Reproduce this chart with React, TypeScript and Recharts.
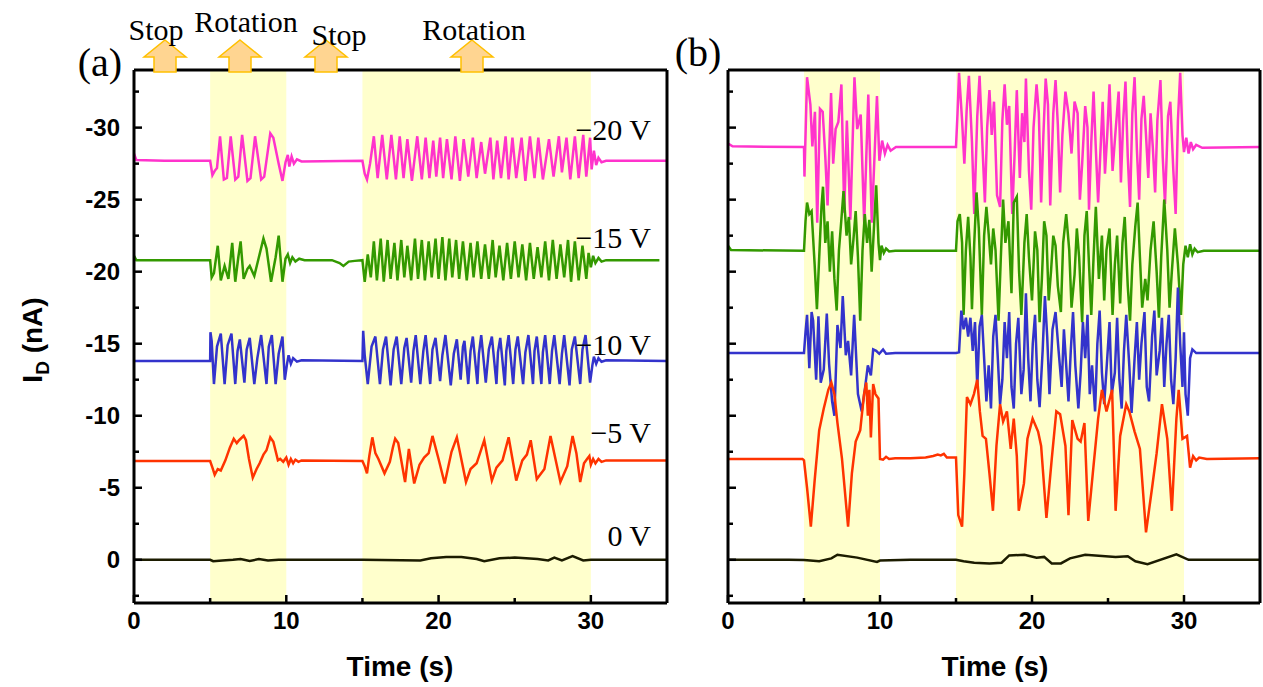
import { LineChart, Line, XAxis, YAxis, ReferenceArea } from 'recharts'

type Pt = [number, number]

// time (s), I_D (nA) – panel (a)
const PINK_A: Pt[] = [
  [0, -28.2], [0.15, -27.75], [2, -27.7], [5.0, -27.7], [5.15, -26.7], [5.3, -27.0], [5.45, -27.2], [5.65, -29.4],
  [5.9, -26.4], [6.1, -26.5], [6.35, -29.4], [6.65, -26.4], [6.85, -26.6], [7.1, -29.5], [7.45, -26.3], [7.65, -26.5],
  [7.95, -29.4], [8.35, -26.4], [8.55, -26.6], [8.95, -29.6], [9.15, -29.3], [9.5, -27.5], [9.75, -26.3], [9.95, -27.6],
  [10.1, -28.1], [10.2, -27.3], [10.35, -28.0], [10.5, -27.5], [10.7, -27.8], [11, -27.65], [15, -27.7],
  [15.15, -26.8], [15.3, -26.4], [15.5, -27.5], [15.75, -29.4], [16.0, -26.5], [16.3, -29.5], [16.6, -26.4], [16.9, -29.5],
  [17.2, -26.4], [17.45, -29.4], [17.7, -26.5], [17.95, -29.2], [18.25, -26.3], [18.6, -29.4], [18.9, -26.4], [19.15, -29.3],
  [19.4, -26.5], [19.65, -29.1], [19.85, -26.6], [20.1, -29.3], [20.3, -26.5], [20.55, -29.2], [20.85, -26.4], [21.1, -29.4],
  [21.4, -26.3], [21.65, -29.2], [21.95, -26.6], [22.25, -29.3], [22.5, -26.5], [22.8, -29.0], [23.05, -26.8], [23.4, -29.3],
  [23.6, -26.4], [23.85, -29.1], [24.1, -26.5], [24.4, -29.4], [24.6, -26.4], [24.85, -29.3], [25.1, -26.5], [25.45, -29.3],
  [25.7, -26.3], [26.0, -29.4], [26.3, -26.5], [26.55, -29.3], [26.85, -26.4], [27.25, -29.2], [27.55, -26.6], [27.9, -29.4],
  [28.1, -26.9], [28.4, -29.3], [28.65, -26.4], [28.95, -29.4], [29.2, -26.5], [29.5, -29.5], [29.7, -26.6], [29.95, -29.3],
  [30.05, -27.1], [30.2, -28.4], [30.35, -27.4], [30.5, -27.9], [30.7, -27.6], [31, -27.7], [35, -27.7],
]

const GREEN_A: Pt[] = [
  [0, -21.1], [0.15, -20.8], [5.0, -20.8], [5.1, -19.6], [5.25, -19.9], [5.5, -21.8], [5.7, -19.4], [5.95, -20.4],
  [6.2, -19.5], [6.45, -22.0], [6.65, -19.3], [6.85, -21.0], [7.0, -22.1], [7.2, -19.5], [7.45, -20.2], [7.6, -20.4],
  [7.9, -19.7], [8.2, -21.0], [8.5, -22.3], [8.7, -21.6], [9.0, -19.3], [9.3, -21.0], [9.5, -22.5], [9.75, -19.3],
  [9.95, -20.9], [10.1, -21.2], [10.25, -20.6], [10.4, -21.0], [10.6, -20.7], [10.85, -20.9], [11.2, -20.8], [13.0, -20.8],
  [13.5, -20.6], [13.75, -20.4], [14.1, -20.7], [14.5, -20.75], [15.0, -20.8],
  [15.15, -19.3], [15.35, -21.2], [15.55, -19.6], [15.75, -22.1], [15.95, -19.4], [16.2, -22.3], [16.4, -19.3], [16.65, -22.2],
  [16.85, -19.5], [17.1, -22.0], [17.3, -19.4], [17.55, -22.2], [17.75, -19.6], [17.95, -21.8], [18.2, -19.4], [18.45, -22.3],
  [18.65, -19.5], [18.9, -22.2], [19.1, -19.4], [19.35, -22.1], [19.55, -19.6], [19.8, -22.3], [20.0, -19.5], [20.25, -22.4],
  [20.45, -19.4], [20.7, -22.3], [20.9, -19.6], [21.15, -22.2], [21.35, -19.5], [21.6, -22.1], [21.85, -19.4], [22.1, -22.0],
  [22.3, -19.6], [22.55, -22.1], [22.8, -19.5], [23.05, -21.9], [23.3, -19.5], [23.55, -22.2], [23.75, -19.6], [24.0, -21.8],
  [24.25, -19.4], [24.5, -22.0], [24.75, -19.5], [25.0, -22.1], [25.25, -19.6], [25.5, -21.9], [25.75, -19.4], [26.0, -22.0],
  [26.25, -19.5], [26.5, -21.7], [26.75, -19.6], [27.0, -22.1], [27.25, -19.4], [27.5, -22.2], [27.75, -19.5], [28.0, -21.9],
  [28.25, -19.6], [28.5, -22.2], [28.7, -19.3], [28.95, -22.1], [29.2, -19.4], [29.45, -21.8], [29.7, -19.5], [29.85, -21.3],
  [30.0, -20.3], [30.15, -21.1], [30.3, -20.6], [30.5, -20.95], [30.7, -20.7], [31.0, -20.8], [34.5, -20.8],
]

const BLUE_A: Pt[] = [
  [0, -13.8], [5.0, -13.8], [5.02, -15.8], [5.1, -15.2], [5.25, -12.2], [5.45, -14.8], [5.7, -15.7], [5.95, -12.2],
  [6.15, -14.9], [6.4, -15.7], [6.65, -12.2], [6.8, -14.5], [6.95, -15.3], [7.25, -12.3], [7.4, -14.6], [7.6, -15.4],
  [7.9, -12.2], [8.1, -14.0], [8.35, -15.6], [8.7, -12.2], [8.85, -14.8], [9.05, -15.6], [9.3, -12.2], [9.5, -14.3],
  [9.75, -15.5], [9.9, -12.5], [10.05, -13.6], [10.15, -14.2], [10.3, -13.6], [10.45, -14.0], [10.7, -13.75], [11, -13.85],
  [15.0, -13.8], [15.05, -15.9], [15.15, -14.2], [15.35, -12.2], [15.6, -14.8], [15.85, -15.5], [16.15, -12.2], [16.35, -14.6],
  [16.55, -15.5], [16.85, -12.1], [17.05, -14.6], [17.25, -15.5], [17.55, -12.2], [17.75, -14.7], [17.9, -15.4], [18.2, -12.3],
  [18.35, -14.5], [18.5, -15.6], [18.8, -12.2], [19.0, -14.5], [19.15, -15.6], [19.45, -12.2], [19.6, -14.6], [19.8, -15.4],
  [20.1, -12.4], [20.25, -14.2], [20.45, -15.6], [20.8, -12.1], [21.0, -14.3], [21.2, -15.3], [21.45, -12.5], [21.6, -14.8],
  [21.7, -15.2], [21.95, -12.2], [22.1, -14.5], [22.25, -15.5], [22.55, -12.2], [22.65, -14.3], [22.8, -15.6], [23.1, -12.3],
  [23.3, -14.6], [23.5, -15.5], [23.8, -12.2], [23.9, -14.4], [24.05, -15.4], [24.35, -12.1], [24.45, -14.5], [24.6, -15.6],
  [24.9, -12.2], [25.05, -14.6], [25.2, -15.5], [25.55, -12.2], [25.7, -14.4], [25.9, -15.6], [26.2, -12.2], [26.3, -14.5],
  [26.45, -15.5], [26.75, -12.2], [26.85, -14.4], [27.0, -15.6], [27.3, -12.2], [27.45, -14.5], [27.6, -15.6], [27.95, -12.2],
  [28.1, -14.3], [28.25, -15.6], [28.6, -12.1], [28.75, -14.6], [28.95, -15.5], [29.3, -12.2], [29.45, -14.6], [29.65, -15.6],
  [29.95, -12.3], [30.1, -13.5], [30.2, -14.1], [30.35, -13.6], [30.5, -14.0], [30.7, -13.75], [31.0, -13.85], [35, -13.8],
]

const RED_A: Pt[] = [
  [0, -6.85], [5.0, -6.85], [5.15, -6.4], [5.3, -5.9], [5.5, -6.3], [5.7, -6.2], [6.0, -6.9], [6.3, -7.8],
  [6.55, -8.4], [6.75, -8.1], [6.9, -8.3], [7.2, -8.6], [7.35, -8.3], [7.55, -7.0], [7.8, -5.7], [8.05, -6.3],
  [8.25, -6.7], [8.5, -7.3], [8.7, -7.6], [8.95, -8.5], [9.15, -8.2], [9.45, -6.9], [9.6, -7.0], [9.8, -6.8],
  [10.0, -7.1], [10.15, -6.6], [10.3, -7.0], [10.45, -6.7], [10.6, -6.95], [10.8, -6.8], [11, -6.9], [15.0, -6.85],
  [15.15, -6.5], [15.3, -6.0], [15.45, -7.2], [15.65, -8.5], [15.85, -7.4], [16.05, -7.0], [16.45, -6.0], [16.8, -6.8],
  [17.0, -7.8], [17.15, -8.4], [17.35, -8.1], [17.8, -5.4], [18.05, -7.7], [18.4, -5.3], [18.75, -6.6], [19.05, -7.1],
  [19.35, -7.4], [19.6, -8.6], [20.0, -7.0], [20.4, -5.3], [20.85, -7.5], [21.2, -8.5], [21.8, -5.4], [22.1, -6.3],
  [22.5, -6.7], [23.0, -8.3], [23.5, -5.5], [23.8, -6.4], [24.2, -6.9], [24.6, -8.5], [25.1, -5.5], [25.5, -6.9],
  [25.8, -7.3], [26.05, -8.3], [26.45, -5.6], [26.95, -6.3], [27.35, -8.6], [28.0, -5.4], [28.45, -6.5], [28.8, -8.6],
  [29.05, -7.4], [29.3, -5.4], [29.55, -6.7], [29.75, -7.0], [29.9, -7.2], [30.0, -6.6], [30.15, -7.0], [30.3, -6.7],
  [30.5, -7.0], [30.7, -6.8], [31, -6.9], [35, -6.9],
]

const BLACK_A: Pt[] = [
  [0, 0], [5.0, 0], [5.2, 0.1], [5.8, 0.05], [6.5, 0], [7.0, -0.05], [7.6, 0.08], [8.2, -0.05], [8.8, 0.05],
  [9.5, 0], [10, 0], [15, 0], [18.8, 0.05], [19.5, -0.1], [20.5, -0.2], [21.5, -0.2], [22.5, -0.05], [23.0, 0.1],
  [24.0, -0.1], [25.0, -0.15], [26.5, -0.05], [27.2, 0.05], [27.6, -0.15], [28.1, 0.05], [28.8, -0.25], [29.5, 0.05],
  [30, 0], [35, 0],
]

// panel (b)
const PINK_B: Pt[] = [
  [0, -28.9], [0.3, -28.7], [5.0, -28.65], [5.03, -26.6], [5.2, -33.5], [5.42, -31.6], [5.55, -28.7], [5.72, -31.1],
  [5.87, -23.4], [6.05, -31.3], [6.23, -31.1], [6.4, -28.0], [6.55, -24.6], [6.78, -32.4], [6.92, -27.5], [7.08, -29.9],
  [7.26, -30.4], [7.46, -33.0], [7.65, -24.1], [7.82, -30.5], [8.05, -23.6], [8.32, -33.5], [8.5, -29.9], [8.73, -30.9],
  [8.96, -23.4], [9.23, -32.3], [9.46, -23.4], [9.8, -32.2], [9.96, -27.7], [10.14, -29.1], [10.32, -28.2], [10.5, -28.8],
  [10.7, -28.4], [11.05, -28.65], [15.0, -28.65],
  [15.1, -31.0], [15.2, -33.8], [15.4, -30.5], [15.55, -27.5], [15.7, -31.2], [15.85, -33.6], [16.05, -29.0], [16.2, -24.0],
  [16.4, -30.8], [16.55, -33.6], [16.75, -28.5], [16.9, -24.8], [17.05, -30.0], [17.2, -32.6], [17.35, -29.5], [17.5, -31.8],
  [17.7, -25.3], [17.9, -24.5], [18.05, -30.5], [18.2, -33.0], [18.35, -30.2], [18.5, -31.5], [18.7, -24.0], [18.85, -28.0],
  [19.0, -32.6], [19.2, -26.5], [19.35, -31.0], [19.5, -29.0], [19.6, -33.4], [19.8, -27.0], [19.95, -24.3], [20.1, -30.0],
  [20.3, -33.0], [20.45, -31.0], [20.6, -24.8], [20.75, -29.5], [20.9, -33.4], [21.05, -31.6], [21.2, -24.6], [21.4, -31.0],
  [21.55, -33.3], [21.7, -30.2], [21.85, -25.5], [22.0, -29.5], [22.2, -32.5], [22.4, -31.0], [22.6, -28.2], [22.8, -31.8],
  [23.0, -31.0], [23.15, -25.0], [23.3, -27.5], [23.5, -31.5], [23.65, -30.0], [23.75, -24.3], [23.9, -29.0], [24.05, -32.5],
  [24.2, -28.5], [24.35, -24.8], [24.5, -28.3], [24.65, -31.8], [24.8, -26.8], [24.95, -29.5], [25.1, -33.0], [25.3, -27.0],
  [25.5, -29.8], [25.7, -32.5], [25.85, -26.2], [26.0, -30.5], [26.15, -33.2], [26.3, -28.0], [26.45, -24.5], [26.6, -31.0],
  [26.75, -33.5], [26.9, -28.5], [27.05, -25.0], [27.2, -30.6], [27.35, -32.2], [27.5, -29.5], [27.65, -26.5], [27.8, -31.0],
  [27.95, -28.6], [28.1, -25.5], [28.25, -30.5], [28.45, -33.3], [28.6, -28.0], [28.75, -24.7], [28.95, -30.8], [29.1, -31.8],
  [29.3, -27.0], [29.45, -24.0], [29.6, -30.5], [29.75, -33.8], [29.9, -29.5], [30.0, -28.3], [30.15, -29.3], [30.3, -28.2],
  [30.45, -29.0], [30.6, -28.5], [30.8, -28.8], [31.2, -28.6], [35, -28.65],
]

const GREEN_B: Pt[] = [
  [0, -21.8], [0.2, -21.5], [5.0, -21.45], [5.1, -23.5], [5.2, -24.8], [5.35, -24.0], [5.5, -24.2], [5.7, -20.5],
  [5.85, -17.4], [6.0, -21.0], [6.15, -24.5], [6.25, -25.9], [6.4, -22.0], [6.55, -23.5], [6.7, -20.0], [6.85, -22.8],
  [7.0, -19.5], [7.15, -17.3], [7.3, -21.5], [7.45, -23.5], [7.6, -25.6], [7.8, -22.5], [7.95, -23.8], [8.1, -20.5],
  [8.25, -22.2], [8.4, -24.2], [8.55, -21.0], [8.7, -16.6], [8.85, -21.5], [9.0, -24.0], [9.15, -22.0], [9.3, -23.6],
  [9.45, -20.0], [9.6, -23.0], [9.75, -26.0], [9.9, -22.0], [10.0, -20.8], [10.1, -21.8], [10.25, -21.3], [10.4, -21.6],
  [10.6, -21.4], [11, -21.45], [15, -21.45],
  [15.1, -23.5], [15.25, -24.0], [15.4, -22.0], [15.5, -17.0], [15.65, -21.5], [15.8, -23.8], [15.95, -21.0], [16.05, -17.4],
  [16.2, -22.0], [16.35, -25.5], [16.5, -23.0], [16.7, -17.0], [16.85, -22.5], [17.0, -24.5], [17.15, -22.6], [17.3, -20.5],
  [17.45, -23.0], [17.6, -21.5], [17.8, -16.6], [17.95, -21.0], [18.1, -25.0], [18.25, -22.0], [18.45, -23.5], [18.65, -18.5],
  [18.8, -24.8], [19.0, -25.2], [19.15, -20.0], [19.3, -17.0], [19.5, -22.0], [19.65, -24.0], [19.8, -21.0], [20.0, -18.0],
  [20.2, -22.8], [20.35, -21.5], [20.5, -16.5], [20.65, -19.5], [20.8, -23.5], [20.95, -22.5], [21.1, -18.0], [21.25, -20.0],
  [21.4, -22.5], [21.55, -21.8], [21.7, -19.0], [21.9, -17.2], [22.05, -22.0], [22.25, -24.0], [22.45, -21.5], [22.6, -17.5],
  [22.8, -19.8], [22.95, -23.0], [23.1, -21.0], [23.3, -16.5], [23.45, -22.5], [23.6, -24.2], [23.75, -20.5], [23.9, -17.0],
  [24.05, -21.0], [24.2, -24.5], [24.4, -19.5], [24.6, -22.5], [24.75, -18.0], [24.9, -21.5], [25.1, -23.0], [25.3, -17.0],
  [25.45, -20.5], [25.6, -22.5], [25.8, -17.8], [25.95, -22.0], [26.1, -23.8], [26.3, -19.0], [26.45, -16.6], [26.6, -20.5],
  [26.8, -23.2], [26.95, -24.8], [27.1, -21.0], [27.25, -17.5], [27.45, -19.5], [27.6, -18.0], [27.8, -21.5], [28.0, -23.5],
  [28.2, -20.0], [28.35, -16.8], [28.5, -21.0], [28.7, -25.0], [28.9, -21.5], [29.05, -17.5], [29.2, -20.0], [29.4, -23.0],
  [29.6, -20.5], [29.8, -17.0], [29.95, -20.5], [30.1, -21.8], [30.25, -21.0], [30.4, -21.9], [30.55, -21.2], [30.7, -21.6],
  [30.9, -21.35], [31.3, -21.45], [35, -21.45],
]

const BLUE_B: Pt[] = [
  [0, -14.35], [5.0, -14.35], [5.1, -15.8], [5.2, -17.0], [5.35, -13.3], [5.5, -17.2], [5.6, -16.6], [5.8, -12.5],
  [5.95, -16.9], [6.1, -12.3], [6.3, -13.2], [6.5, -17.1], [6.65, -13.6], [6.85, -11.0], [7.0, -10.0], [7.2, -16.3],
  [7.4, -14.7], [7.55, -18.3], [7.75, -14.2], [7.9, -15.2], [8.1, -12.8], [8.3, -17.0], [8.55, -11.5], [8.8, -10.3],
  [9.0, -11.8], [9.2, -13.5], [9.4, -12.8], [9.55, -14.6], [9.75, -14.5], [9.95, -14.3], [10.2, -14.6], [10.4, -14.3],
  [11, -14.35], [15.0, -14.35],
  [15.2, -14.4], [15.35, -17.3], [15.5, -16.0], [15.65, -16.8], [15.8, -15.5], [15.95, -16.8], [16.1, -14.5], [16.25, -16.5],
  [16.4, -12.0], [16.55, -16.2], [16.7, -17.0], [16.85, -14.0], [17.0, -11.0], [17.15, -13.5], [17.3, -10.5], [17.45, -15.5],
  [17.6, -17.0], [17.75, -14.0], [17.9, -10.8], [18.05, -12.5], [18.2, -16.5], [18.35, -14.0], [18.5, -17.2], [18.65, -12.0],
  [18.8, -10.5], [18.95, -15.0], [19.1, -16.8], [19.3, -11.5], [19.45, -13.2], [19.6, -18.5], [19.75, -14.0], [19.9, -11.0],
  [20.05, -15.0], [20.2, -17.0], [20.35, -12.5], [20.5, -10.6], [20.7, -14.5], [20.85, -18.3], [21.0, -15.5], [21.15, -11.5],
  [21.35, -16.0], [21.55, -17.2], [21.75, -14.5], [21.95, -12.0], [22.1, -16.0], [22.25, -13.5], [22.4, -11.0], [22.55, -14.5],
  [22.7, -17.2], [22.85, -13.5], [23.05, -10.5], [23.2, -13.0], [23.35, -16.5], [23.5, -14.0], [23.65, -17.0], [23.8, -11.5],
  [23.95, -13.5], [24.15, -10.3], [24.3, -15.0], [24.45, -17.3], [24.6, -13.0], [24.75, -10.8], [24.95, -14.0], [25.1, -16.5],
  [25.25, -11.5], [25.45, -13.0], [25.6, -16.8], [25.75, -12.5], [25.9, -10.5], [26.05, -14.5], [26.2, -17.0], [26.4, -13.5],
  [26.55, -10.2], [26.75, -14.0], [26.9, -16.5], [27.05, -12.5], [27.2, -15.0], [27.4, -17.2], [27.55, -12.0], [27.7, -11.0],
  [27.9, -15.5], [28.05, -17.3], [28.2, -12.8], [28.4, -14.5], [28.55, -16.8], [28.7, -12.0], [28.85, -15.0], [29.0, -17.0],
  [29.15, -12.5], [29.3, -10.8], [29.45, -14.0], [29.6, -18.9], [29.75, -15.0], [29.9, -12.0], [30.0, -15.8], [30.1, -11.5],
  [30.25, -10.0], [30.4, -14.0], [30.55, -14.6], [30.8, -14.35], [35, -14.35],
]

const RED_B: Pt[] = [
  [0, -7.0], [4.9, -7.0], [5.0, -6.9], [5.2, -5.0], [5.45, -2.3], [5.7, -5.5], [6.0, -9.0], [6.3, -10.5],
  [6.6, -11.8], [6.8, -12.3], [7.0, -11.5], [7.2, -9.5], [7.5, -7.0], [7.9, -2.3], [8.15, -6.0], [8.4, -8.2],
  [8.7, -9.0], [8.95, -11.5], [9.1, -12.3], [9.2, -10.0], [9.3, -11.8], [9.4, -8.5], [9.55, -12.2], [9.7, -11.5],
  [9.9, -11.2], [10.0, -7.0], [10.2, -6.95], [10.4, -7.15], [10.6, -7.0], [11, -7.05], [12, -7.05], [13, -7.1],
  [13.5, -7.2], [13.8, -7.3], [14.0, -7.25], [14.2, -7.35], [14.4, -7.1], [15.0, -7.1],
  [15.15, -3.1], [15.4, -2.3], [15.55, -6.0], [15.72, -11.3], [15.95, -10.8], [16.18, -11.5], [16.4, -12.5], [16.57, -10.3],
  [16.75, -8.6], [16.97, -8.4], [17.2, -6.0], [17.43, -3.4], [17.66, -7.9], [17.9, -10.8], [18.1, -9.6], [18.35, -10.3],
  [18.6, -7.7], [18.8, -9.8], [19.0, -7.2], [19.13, -3.4], [19.47, -5.3], [19.7, -8.4], [20.04, -9.8], [20.4, -8.9],
  [20.6, -7.9], [20.95, -2.9], [21.3, -7.0], [21.6, -10.3], [21.85, -10.1], [22.2, -7.9], [22.4, -3.1], [22.65, -9.7],
  [23.0, -8.4], [23.2, -8.2], [23.45, -9.5], [23.7, -2.7], [24.0, -6.0], [24.35, -9.8], [24.6, -11.8], [24.9, -10.3],
  [25.27, -11.8], [25.5, -3.4], [25.8, -8.6], [26.2, -10.8], [26.4, -10.3], [26.75, -8.9], [27.1, -7.7], [27.5, -1.9],
  [27.9, -5.0], [28.2, -7.4], [28.55, -10.8], [28.9, -8.4], [29.2, -3.4], [29.5, -9.8], [29.65, -11.8], [29.9, -8.4],
  [30.2, -8.6], [30.4, -6.4], [30.6, -7.2], [30.8, -6.9], [31.0, -7.1], [31.5, -7.0], [35, -7.05],
]

const BLACK_B: Pt[] = [
  [0, 0], [4, 0], [5.0, 0.02], [6.0, 0.1], [6.8, -0.1], [7.2, -0.35], [8.5, -0.15], [9.8, 0.15], [10.0, 0.05],
  [12, 0], [15, 0], [15.5, 0.1], [16.2, 0.2], [17.2, 0.25], [18.0, 0.2], [18.5, -0.3], [19.5, -0.35], [20.3, -0.15],
  [20.8, -0.2], [21.3, 0.25], [21.9, 0.25], [22.5, -0.1], [23.5, -0.35], [25.5, -0.2], [26.3, -0.25], [26.8, 0.1],
  [27.6, 0.3], [29.5, -0.38], [30.3, 0], [35, 0],
]

const ROTATION_SPANS: [number, number][] = [[5, 10], [15, 30]]
const X_TICKS = [0, 5, 10, 15, 20, 25, 30]
const Y_TICKS = [-32.5, -30, -27.5, -25, -22.5, -20, -17.5, -15, -12.5, -10, -7.5, -5, -2.5, 0, 2.5]
const VOLT_LABELS = ['\u221220 V', '\u221215 V', '\u221210 V', '\u22125 V', '0 V']
const PHASES = ['Stop', 'Rotation', 'Stop', 'Rotation']

const COLORS = ['#FF33CC', '#339900', '#3333CC', '#FF3300', '#1c1c00']

const SANS = '"Liberation Sans", Arial, sans-serif'
const SERIF = '"Liberation Serif", "Times New Roman", serif'

const rows = (pts: Pt[]) => pts.map(([t, v]) => ({ t, v }))

function XTick({ x, y, payload }: any) {
  const v = payload.value
  const major = v % 10 === 0
  return (
    <g>
      <line x1={x} x2={x} y1={y} y2={y - (major ? 8 : 5)} stroke="#000" strokeWidth={2.5} />
      {major && (
        <text x={x} y={y + 26} textAnchor="middle" fontFamily={SANS} fontWeight="bold" fontSize={24} fill="#000">
          {v}
        </text>
      )}
    </g>
  )
}

function makeYTick(showLabels: boolean) {
  return function YTick({ x, y, payload }: any) {
    const v = payload.value
    const major = v % 5 === 0
    return (
      <g>
        <line x1={x} x2={x + (major ? 8 : 5)} y1={y} y2={y} stroke="#000" strokeWidth={2.5} />
        {showLabels && major && (
          <text x={x - 14} y={y + 8} textAnchor="end" fontFamily={SANS} fontWeight="bold" fontSize={24} fill="#000">
            {v === 0 ? '0' : `-${Math.abs(v)}`}
          </text>
        )}
      </g>
    )
  }
}

function Panel({ series, left, width, marginLeft, marginRight, showLabels }: any) {
  return (
    <div style={{ position: 'absolute', left, top: 0 }}>
      <LineChart width={width} height={687} margin={{ top: 69, right: marginRight, bottom: 83, left: marginLeft }}>
        {ROTATION_SPANS.map(([a, b]) => (
          <ReferenceArea key={a} x1={a} x2={b} y1={-34} y2={3} fill="#FFFFCC" fillOpacity={1} stroke="none" />
        ))}
        <XAxis
          dataKey="t"
          type="number"
          domain={[0, 35]}
          ticks={X_TICKS}
          height={1}
          tickSize={0}
          tickMargin={0}
          tick={<XTick />}
          axisLine={{ stroke: '#000', strokeWidth: 3 }}
          tickLine={false}
          interval={0}
          allowDataOverflow
        />
        <XAxis xAxisId="top" orientation="top" type="number" domain={[0, 35]} height={1} tick={false} tickLine={false}
          axisLine={{ stroke: '#000', strokeWidth: 3 }} />
        <YAxis
          type="number"
          domain={[-34, 3]}
          reversed
          ticks={Y_TICKS}
          width={1}
          tickSize={0}
          tickMargin={0}
          tick={makeYTick(showLabels)}
          axisLine={{ stroke: '#000', strokeWidth: 3 }}
          tickLine={false}
          interval={0}
          allowDataOverflow
        />
        <YAxis yAxisId="right" orientation="right" type="number" domain={[-34, 3]} width={1} tick={false} tickLine={false}
          axisLine={{ stroke: '#000', strokeWidth: 3 }} />
        {series.map((s: Pt[], i: number) => (
          <Line
            key={i}
            data={rows(s)}
            dataKey="v"
            type="linear"
            stroke={COLORS[i]}
            strokeWidth={2.5}
            dot={false}
            isAnimationActive={false}
          />
        ))}
      </LineChart>
    </div>
  )
}

const ARROW_X = [165, 240, 326, 472]
const PHASE_POS: [number, number][] = [[156, 40], [246, 32], [339, 45], [474, 40]]
const VOLT_Y = [140, 248, 355, 443, 546]

export default function App() {
  return (
    <div style={{ position: 'absolute', left: 0, top: 0, width: 1263, height: 687, background: '#fff' }}>
      <Panel series={[PINK_A, GREEN_A, BLUE_A, RED_A, BLACK_A]} left={0} width={680} marginLeft={133} marginRight={12} showLabels />
      <Panel series={[PINK_B, GREEN_B, BLUE_B, RED_B, BLACK_B]} left={600} width={663} marginLeft={127} marginRight={2} showLabels={false} />
      <svg width={1263} height={687} style={{ position: 'absolute', left: 0, top: 0, pointerEvents: 'none' }}>
        {ARROW_X.map((cx) => (
          <polygon
            key={cx}
            points={`${cx},40 ${cx + 21},57 ${cx + 11},57 ${cx + 11},72 ${cx - 11},72 ${cx - 11},57 ${cx - 21},57`}
            fill="#FFD591"
            stroke="#FFC000"
            strokeWidth={1.5}
          />
        ))}
        {PHASES.map((p, i) => (
          <text key={i} x={PHASE_POS[i][0]} y={PHASE_POS[i][1]} textAnchor="middle" fontFamily={SERIF} fontSize={30} fill="#000">
            {p}
          </text>
        ))}
        <text x={100} y={76} textAnchor="middle" fontFamily={SERIF} fontSize={40} fill="#000">(a)</text>
        <text x={698} y={66} textAnchor="middle" fontFamily={SERIF} fontSize={40} fill="#000">(b)</text>
        {VOLT_LABELS.map((l, i) => (
          <text key={l} x={651} y={VOLT_Y[i]} textAnchor="end" fontFamily={SERIF} fontSize={30} fill="#000">
            {l}
          </text>
        ))}
        <text transform="rotate(-90 42 340)" x={42} y={340} textAnchor="middle" fontFamily={SANS} fontWeight="bold" fontSize={28} fill="#000">
          I<tspan dy={7} fontSize={19}>D</tspan><tspan dy={-7}> (nA)</tspan>
        </text>
        <text x={400} y={676} textAnchor="middle" fontFamily={SANS} fontWeight="bold" fontSize={28} fill="#000">Time (s)</text>
        <text x={995} y={676} textAnchor="middle" fontFamily={SANS} fontWeight="bold" fontSize={28} fill="#000">Time (s)</text>
      </svg>
    </div>
  )
}
